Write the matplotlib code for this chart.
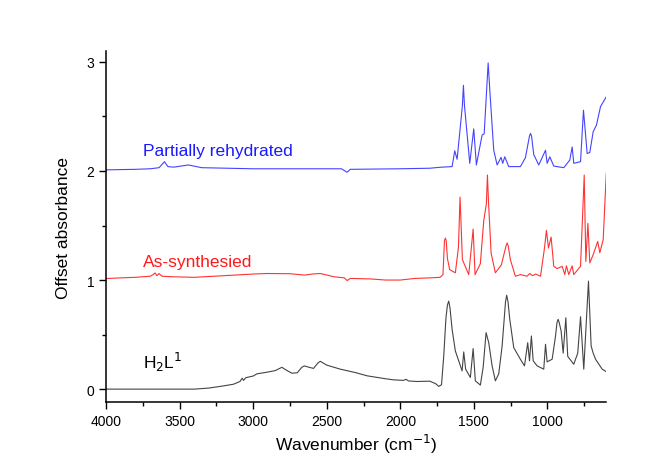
import numpy as np
import matplotlib
matplotlib.use('Agg')
import matplotlib.pyplot as plt
from matplotlib.ticker import MultipleLocator

plt.rcParams['font.family'] = ['Liberation Sans', 'DejaVu Sans']

# H2L1 (no offset)
wn_h2l = [4000, 3700, 3400, 3300, 3200, 3134, 3090, 3075, 3066, 3050, 3000, 2975, 2907, 2850, 2805,
          2770, 2737, 2700, 2670, 2653, 2620, 2590, 2560, 2544, 2500, 2408, 2300, 2226, 2100, 2045,
          1980, 1960, 1945, 1887, 1800, 1760, 1739, 1720, 1705, 1690, 1680, 1671, 1662, 1648, 1626, 1603, 1580,
          1569, 1556, 1524, 1505, 1490, 1456, 1437, 1417, 1399, 1376, 1354, 1331, 1308, 1285, 1277, 1268, 1256,
          1229, 1184, 1156, 1134, 1122, 1109, 1097, 1070, 1025, 1013, 1002, 968, 945, 935, 927, 920, 907,
          893, 875, 862, 821, 794, 775, 753, 721, 703, 689, 673, 628, 600]
ab_h2l = [0.0, 0.0, 0.0, 0.01, 0.03, 0.045, 0.07, 0.10, 0.08, 0.105, 0.12, 0.14, 0.155, 0.17, 0.2,
          0.17, 0.146, 0.15, 0.2, 0.213, 0.2, 0.19, 0.24, 0.255, 0.22, 0.183, 0.15, 0.122, 0.095, 0.085,
          0.08, 0.09, 0.075, 0.07, 0.073, 0.05, 0.025, 0.04, 0.3, 0.65, 0.77, 0.807, 0.74, 0.548, 0.35, 0.259, 0.167,
          0.341, 0.183, 0.107, 0.372, 0.076, 0.037, 0.2, 0.518, 0.426, 0.213, 0.076, 0.14, 0.396, 0.8, 0.861, 0.8, 0.64,
          0.38, 0.274, 0.213, 0.426, 0.259, 0.487, 0.26, 0.213, 0.183, 0.411, 0.25, 0.274, 0.487, 0.61, 0.64, 0.61, 0.533,
          0.33, 0.654, 0.3, 0.228, 0.33, 0.664, 0.183, 0.99, 0.396, 0.33, 0.274, 0.183, 0.16]

# As-synthesied (offset 1)
wn_as = [4000, 3900, 3800, 3750, 3700, 3680, 3667, 3655, 3640, 3620, 3550, 3400, 3200, 3000, 2907,
         2750, 2650, 2600, 2544, 2450, 2380, 2362, 2340, 2200, 2100, 2000, 1900, 1796, 1730, 1710,
         1700, 1694, 1688, 1680, 1665, 1626, 1605, 1594, 1578, 1535, 1505, 1492, 1456, 1433, 1415, 1408, 1400, 1383, 1354,
         1313, 1282, 1274, 1266, 1252, 1218, 1184, 1138, 1120, 1100, 1080, 1047, 1020, 1007, 993, 975, 957,
         934, 900, 882, 871, 855, 832, 821, 775, 750, 739, 725, 712, 689, 658, 644, 621, 600]
ab_as = [1.014, 1.02, 1.025, 1.03, 1.035, 1.05, 1.065, 1.04, 1.06, 1.035, 1.03, 1.025, 1.04, 1.055, 1.06,
         1.058, 1.045, 1.055, 1.06, 1.03, 1.02, 0.995, 1.015, 1.01, 1.0, 1.0, 1.015, 1.02, 1.025, 1.05,
         1.36, 1.385, 1.36, 1.2, 1.096, 1.066, 1.3, 1.76, 1.187, 1.05, 1.467, 1.05, 1.15, 1.543, 1.7, 1.963, 1.7, 1.248, 1.066,
         1.14, 1.31, 1.34, 1.31, 1.187, 1.035, 1.05, 1.035, 1.06, 1.04, 1.055, 1.035, 1.294, 1.455, 1.294, 1.394, 1.126,
         1.105, 1.126, 1.05, 1.13, 1.05, 1.13, 1.05, 1.126, 1.963, 1.17, 1.52, 1.157, 1.233, 1.354, 1.25, 1.37, 1.98]

# Partially rehydrated (offset 2)
wn_pr = [4000, 3800, 3700, 3640, 3603, 3580, 3540, 3440, 3350, 3000, 2500, 2400, 2362, 2340, 2000,
         1800, 1728, 1648, 1630, 1614, 1578, 1571, 1564, 1528, 1501, 1483, 1444, 1430, 1403, 1392, 1365, 1342,
         1315, 1304, 1290, 1263, 1184, 1150, 1122, 1115, 1108, 1093, 1059, 1013, 1002, 984, 957, 889, 848,
         832, 821, 775, 755, 730, 712, 689, 667, 639, 600]
ab_pr = [2.01, 2.015, 2.02, 2.03, 2.085, 2.04, 2.035, 2.055, 2.03, 2.02, 2.02, 2.02, 1.988, 2.015, 2.02,
         2.025, 2.034, 2.04, 2.185, 2.107, 2.6, 2.785, 2.6, 2.07, 2.386, 2.055, 2.33, 2.34, 2.99, 2.746, 2.19, 2.055,
         2.125, 2.07, 2.13, 2.04, 2.04, 2.12, 2.32, 2.344, 2.32, 2.15, 2.055, 2.19, 2.07, 2.13, 2.045, 2.03, 2.1,
         2.22, 2.07, 2.085, 2.557, 2.16, 2.17, 2.36, 2.42, 2.59, 2.68]

fig = plt.figure(figsize=(6.59, 4.64), dpi=100)
ax = fig.add_axes([0.161, 0.131, 0.759, 0.757])

ax.plot(wn_h2l, ab_h2l, color='#444444', lw=0.8)
ax.plot(wn_as, ab_as, color='#ff3333', lw=0.8)
ax.plot(wn_pr, ab_pr, color='#4444ff', lw=0.8)

ax.text(3750, 2.15, 'Partially rehydrated', color='#1a1aff', fontsize=12.5)
ax.text(3750, 1.13, 'As-synthesied', color='#ff1a1a', fontsize=12.5)
ax.text(3750, 0.19, r'H$_2$L$^1$', color='black', fontsize=12.5)

ax.set_xlim(4000, 600)
ax.set_ylim(-0.12, 3.1)
ax.xaxis.set_major_locator(MultipleLocator(500))
ax.xaxis.set_minor_locator(MultipleLocator(250))
ax.yaxis.set_major_locator(MultipleLocator(1))
ax.yaxis.set_minor_locator(MultipleLocator(0.5))
ax.tick_params(which='major', direction='out', length=5, width=1, labelsize=10)
ax.tick_params(which='minor', direction='out', length=3, width=1)
ax.spines['top'].set_visible(False)
ax.spines['right'].set_visible(False)
ax.spines['left'].set_linewidth(1.1)
ax.spines['bottom'].set_linewidth(1.1)

ax.set_xlabel(r'Wavenumber (cm$^{-1}$)', fontsize=12.5, labelpad=3)
ax.set_ylabel('Offset absorbance', fontsize=12.5, labelpad=11)

plt.savefig('out.png', dpi=100)
